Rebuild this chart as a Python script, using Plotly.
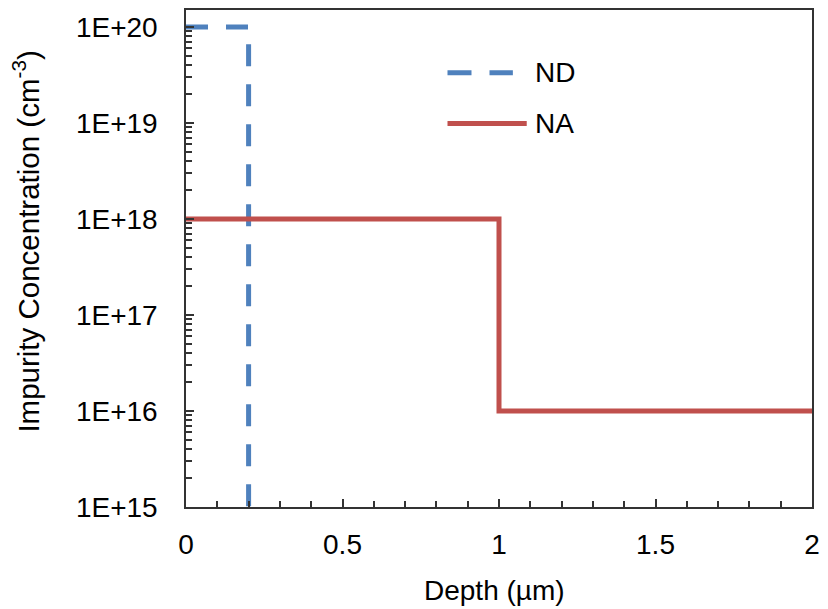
import plotly.graph_objects as go

# ---- data ----
nd_depth = [0, 0.2, 0.2]
nd_conc = [1e20, 1e20, 1e15]
na_depth = [0, 1, 1, 2]
na_conc = [1e18, 1e18, 1e16, 1e16]

y_tickvals = [1e15, 1e16, 1e17, 1e18, 1e19, 1e20]
y_ticktext = ["1E+15", "1E+16", "1E+17", "1E+18", "1E+19", "1E+20"]
x_tickvals = [0, 0.5, 1, 1.5, 2]
x_ticktext = ["0", "0.5", "1", "1.5", "2"]

BLUE = "#4F81BD"
RED = "#C0504D"
AX = "#333333"
FONT = "Liberation Sans, Arial, sans-serif"

fig = go.Figure()
fig.add_trace(go.Scatter(x=nd_depth, y=nd_conc, mode="lines", name="ND",
                         line=dict(color=BLUE, width=5, dash="22px,18px"),
                         showlegend=False, cliponaxis=False))
fig.add_trace(go.Scatter(x=na_depth, y=na_conc, mode="lines", name="NA",
                         line=dict(color=RED, width=5),
                         showlegend=False, cliponaxis=False))

# custom legend (paper coordinates)
L = 828
plot_l, plot_r, plot_t, plot_b = 186, 818, 8, 507
pw = plot_r - plot_l
ph = plot_b - plot_t
def px(x):
    return (x - plot_l) / pw
def py(y):
    return (plot_b - y) / ph

fig.add_shape(type="line", xref="paper", yref="paper",
              x0=px(450), x1=px(516), y0=py(71), y1=py(71),
              line=dict(color=BLUE, width=5, dash="24px,18px"))
fig.add_shape(type="line", xref="paper", yref="paper",
              x0=px(450), x1=px(530), y0=py(122), y1=py(122),
              line=dict(color=RED, width=5))
fig.add_annotation(xref="paper", yref="paper", x=px(536), y=py(71),
                   text="ND", showarrow=False, xanchor="left", yanchor="middle",
                   font=dict(size=28, color="black", family=FONT))
fig.add_annotation(xref="paper", yref="paper", x=px(536), y=py(122),
                   text="NA", showarrow=False, xanchor="left", yanchor="middle",
                   font=dict(size=28, color="black", family=FONT))

# axis titles
fig.add_annotation(xref="paper", yref="paper", x=px(24), y=py(241),
                   text="Impurity Concentration (cm<sup>-3</sup>)",
                   textangle=-90, showarrow=False, xanchor="center", yanchor="middle",
                   font=dict(size=29.5, color="black", family=FONT))
fig.add_annotation(xref="paper", yref="paper", x=px(497), y=py(591),
                   text="Depth (µm)", showarrow=False, xanchor="center", yanchor="middle",
                   font=dict(size=28, color="black", family=FONT))

fig.update_xaxes(range=[0, 2], tickmode="array", tickvals=x_tickvals, ticktext=x_ticktext,
                 showline=True, linecolor=AX, linewidth=1.5, mirror=True,
                 ticks="inside", ticklen=8, tickwidth=1.5, tickcolor=AX,
                 minor=dict(ticks="inside", dtick=0.1, tick0=0, ticklen=6, tickwidth=1.5, tickcolor=AX, showgrid=False),
                 showgrid=False, zeroline=False, ticklabelstandoff=12,
                 tickfont=dict(size=28, color="black", family=FONT))
fig.update_yaxes(type="log", range=[15, 20.176], tickmode="array", tickvals=y_tickvals, ticktext=y_ticktext,
                 showline=True, linecolor=AX, linewidth=1.5, mirror=True,
                 ticks="inside", ticklen=8, tickwidth=1.5, tickcolor=AX,
                 minor=dict(ticks="inside", dtick="D1", ticklen=6, tickwidth=1.5, tickcolor=AX, showgrid=False),
                 showgrid=False, zeroline=False, ticklabelstandoff=21,
                 tickfont=dict(size=28, color="black", family=FONT))

fig.update_layout(width=828, height=609,
                  margin=dict(l=plot_l, r=L - plot_r, t=plot_t, b=609 - plot_b),
                  paper_bgcolor="white", plot_bgcolor="white",
                  font=dict(family=FONT, size=28, color="black"))

fig.write_html("out.html")
